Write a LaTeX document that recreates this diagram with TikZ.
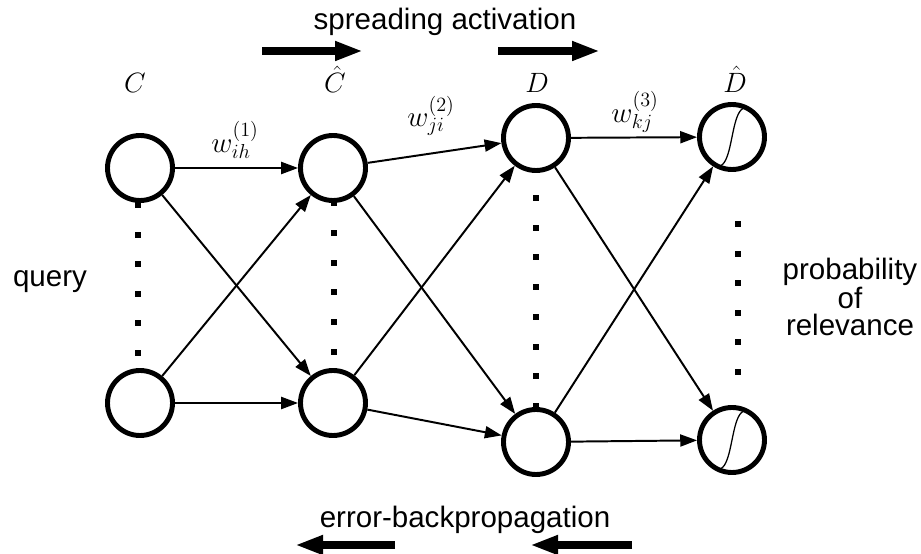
\documentclass[tikz,border=0pt]{standalone}
\usepackage{fontspec}
\setmainfont{Liberation Sans}
\usetikzlibrary{arrows.meta}
\usetikzlibrary{math}

\tikzset{
  neuron/.style={circle, draw, fill=white, line width=3.5pt, minimum size=1.625cm, inner sep=0pt},
  sigmoid/.style={neuron, path picture={
      \draw[line width=0.9pt, shift={(path picture bounding box.center)}]
        (-0.29,-0.72) .. controls (0.02,-0.6) and (-0.02,0.6) .. (0.29,0.72);}},
  link/.style={line width=1.4pt, -{Triangle[length=0.42cm, width=0.3cm]}},
  flow/.style={line width=5.7pt, -{Triangle[length=0.7cm, width=0.45cm]}},
  txt/.style={font=\fontsize{21}{19.5}\selectfont, align=center},
  layer/.style={font=\fontsize{17.28}{20}\selectfont, scale=1.15, anchor=base},
  weight/.style={font=\fontsize{20.74}{23}\selectfont}
}

\begin{document}
\begin{tikzpicture}
\tikzmath{
\xc=3.5; \xch=8.325; \xd=13.4; \xdh=18.3;
\dsz=0.075;
}
\useasboundingbox (0,0) rectangle (23.025,13.85);

%dots between the rows
\foreach \i in {0,...,5}{
  \fill (3.45-\dsz,8.725-\i*0.74-\dsz) rectangle +(2*\dsz,2*\dsz);
  \fill (8.35-\dsz,8.775-\i*0.745-\dsz) rectangle +(2*\dsz,2*\dsz);
  \fill (18.45-\dsz,8.25-\i*0.74-\dsz) rectangle +(2*\dsz,2*\dsz);
}
\foreach \i in {0,...,7}
  \fill (13.4-\dsz,8.9-\i*0.743-\dsz) rectangle +(2*\dsz,2*\dsz);

%units
\node[neuron] (c1) at (\xc,9.65) {};
\node[neuron] (cN) at (\xc,3.775) {};
\node[neuron] (ch1) at (\xch,9.65) {};
\node[neuron] (chN) at (\xch,3.775) {};
\node[neuron] (d1) at (\xd,10.4) {};
\node[neuron] (dN) at (\xd,2.8) {};
\node[sigmoid] (dh1) at (\xdh,10.425) {};
\node[sigmoid] (dhN) at (\xdh,2.85) {};

%weights
\foreach \a in {c1,cN}
  \foreach \b in {ch1,chN}
    \draw[link] (\a) -- (\b);
\foreach \a in {ch1,chN}
  \foreach \b in {d1,dN}
    \draw[link] (\a) -- (\b);
\foreach \a in {d1,dN}
  \foreach \b in {dh1,dhN}
    \draw[link] (\a) -- (\b);

\node[weight] (w1) at (5.875,10.35) {$w_{ih}^{(1)}$};
\node[weight] (w2) at (10.775,10.95) {$w_{ji}^{(2)}$};
\node[weight] (w3) at (15.875,11.05) {$w_{kj}^{(3)}$};

%layer names
\node[layer] (lc) at (3.375,11.525) {$C$};
\node[layer] (lch) at (8.375,11.525) {$\hat{C}$};
\node[layer] (ld) at (13.425,11.525) {$D$};
\node[layer] (ldh) at (18.375,11.525) {$\hat{D}$};

\node[txt] (query) at (1.25,6.8) {query};
\node[txt] (prob) at (21.25,6.425) {probability\\of\\relevance};

%directions
\node[txt] (spread) at (11.125,13.3) {spreading activation};
\coordinate (s1) at (6.55,12.575);
\coordinate (s2) at (9.075,12.575);
\coordinate (s3) at (12.45,12.575);
\coordinate (s4) at (15.0,12.575);
\draw[flow] (s1) -- (s2);
\draw[flow] (s3) -- (s4);

\node[txt] (backprop) at (11.625,0.85) {error-backpropagation};
\coordinate (b1) at (9.875,0.225);
\coordinate (b2) at (7.375,0.225);
\coordinate (b3) at (15.8,0.225);
\coordinate (b4) at (13.25,0.225);
\draw[flow] (b1) -- (b2);
\draw[flow] (b3) -- (b4);
\end{tikzpicture}
\end{document}
